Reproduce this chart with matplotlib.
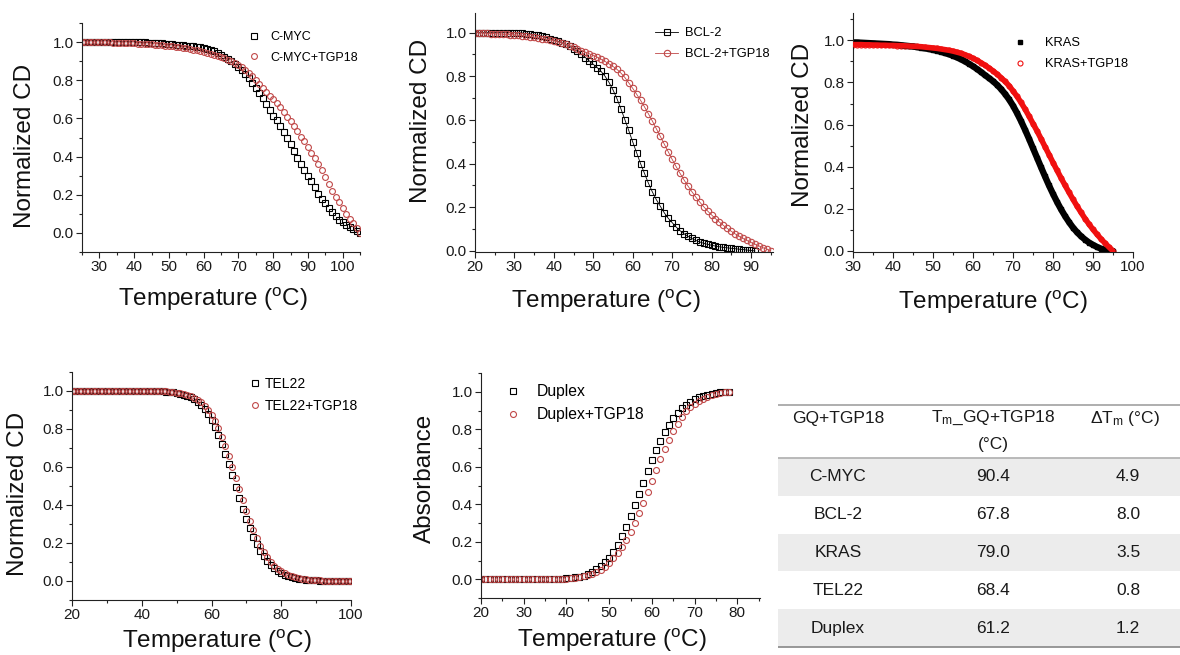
import numpy as np
import matplotlib
matplotlib.use('Agg')
import matplotlib.pyplot as plt
from matplotlib.patches import Rectangle
from matplotlib.ticker import MultipleLocator, FixedLocator, FormatStrFormatter

plt.rcParams['font.family'] = ['Liberation Sans', 'DejaVu Sans']
plt.rcParams['mathtext.fontset'] = 'custom'
plt.rcParams['mathtext.rm'] = 'Liberation Sans'
plt.rcParams['mathtext.it'] = 'Liberation Sans:italic'
plt.rcParams['mathtext.bf'] = 'Liberation Sans:bold'

# ---------------- data ----------------
cmyc_T = np.arange(25, 106)
cmyc = [1.000]*14 + [0.999, 0.999, 0.999, 0.998, 0.998, 0.997, 0.996, 0.995, 0.994, 0.993, 0.992,
        0.990, 0.989, 0.987, 0.985, 0.983, 0.981, 0.979, 0.977, 0.975, 0.972,
        0.970, 0.965, 0.960, 0.952, 0.943, 0.934, 0.924, 0.913, 0.900, 0.886,
        0.870, 0.855, 0.835, 0.810, 0.785, 0.760, 0.735, 0.705, 0.675, 0.645,
        0.615, 0.590, 0.560, 0.530, 0.495, 0.465, 0.430, 0.395, 0.360, 0.330,
        0.300, 0.270, 0.240, 0.205, 0.180, 0.155, 0.130, 0.110, 0.090, 0.070,
        0.055, 0.040, 0.030, 0.020, 0.010, 0.000]
cmyc_tgp = [1.000, 1.000, 1.000, 1.000, 0.999, 0.999, 0.999, 0.998, 0.998, 0.997, 0.997, 0.996, 0.995, 0.995, 0.994,
            0.993, 0.992, 0.991, 0.990, 0.989, 0.988, 0.986, 0.985, 0.983, 0.981,
            0.979, 0.977, 0.975, 0.973, 0.970, 0.967, 0.964, 0.960, 0.956, 0.952,
            0.947, 0.942, 0.937, 0.932, 0.927, 0.921, 0.914, 0.907, 0.899, 0.890,
            0.880, 0.868, 0.854, 0.838, 0.820, 0.800, 0.780, 0.760, 0.740, 0.720,
            0.700, 0.680, 0.660, 0.635, 0.610, 0.585, 0.560, 0.535, 0.505, 0.480,
            0.450, 0.420, 0.390, 0.360, 0.330, 0.295, 0.255, 0.220, 0.190, 0.160,
            0.130, 0.100, 0.075, 0.050, 0.025, 0.000]

bcl_T = np.arange(20, 92)
bcl = [1.000]*11 + [0.999, 0.998, 0.996, 0.994, 0.991, 0.987, 0.983, 0.978, 0.972,
       0.966, 0.960, 0.954, 0.946, 0.937, 0.926, 0.914, 0.901, 0.886, 0.870,
       0.855, 0.840, 0.822, 0.800, 0.772, 0.738, 0.698, 0.652, 0.602, 0.552,
       0.500, 0.450, 0.400, 0.355, 0.310, 0.270, 0.235, 0.205, 0.175, 0.150,
       0.130, 0.110, 0.093, 0.079, 0.067, 0.057, 0.048, 0.041, 0.035, 0.030,
       0.026, 0.022, 0.019, 0.016, 0.014, 0.012, 0.010, 0.008, 0.006, 0.004,
       0.002, 0.000]
bcl_tgp_T = np.arange(20, 96)
bcl_tgp = [1.000, 0.999, 0.998, 0.997, 0.996, 0.995, 0.994, 0.993, 0.992, 0.991,
           0.990, 0.988, 0.986, 0.984, 0.982, 0.979, 0.976, 0.973, 0.970, 0.967,
           0.963, 0.958, 0.953, 0.947, 0.941, 0.934, 0.926, 0.918, 0.910, 0.903,
           0.895, 0.887, 0.878, 0.868, 0.857, 0.845, 0.832, 0.815, 0.795, 0.770,
           0.745, 0.718, 0.690, 0.660, 0.628, 0.595, 0.560, 0.525, 0.490, 0.455,
           0.420, 0.387, 0.356, 0.326, 0.298, 0.272, 0.247, 0.224, 0.203, 0.183,
           0.165, 0.148, 0.132, 0.117, 0.103, 0.090, 0.078, 0.067, 0.057, 0.048,
           0.039, 0.031, 0.023, 0.015, 0.008, 0.000]

kras_T = np.arange(30, 96)
kras = [0.990, 0.990, 0.989, 0.988, 0.987, 0.986, 0.985, 0.984, 0.983, 0.982,
        0.980, 0.979, 0.977, 0.975, 0.973, 0.971, 0.968, 0.965, 0.962, 0.959,
        0.955, 0.951, 0.946, 0.940, 0.934, 0.927, 0.919, 0.910, 0.900, 0.889,
        0.877, 0.864, 0.850, 0.835, 0.821, 0.806, 0.789, 0.769, 0.746, 0.720,
        0.690, 0.655, 0.617, 0.576, 0.533, 0.488, 0.443, 0.398, 0.354, 0.311,
        0.271, 0.233, 0.198, 0.166, 0.137, 0.111, 0.089, 0.070, 0.054, 0.040,
        0.029, 0.019, 0.011, 0.005, 0.001, 0.000]
kras_tgp = [0.980, 0.980, 0.980, 0.979, 0.979, 0.978, 0.978, 0.977, 0.977, 0.976,
            0.976, 0.975, 0.975, 0.974, 0.973, 0.972, 0.971, 0.970, 0.968, 0.966,
            0.964, 0.962, 0.959, 0.956, 0.953, 0.949, 0.944, 0.939, 0.932, 0.924,
            0.915, 0.905, 0.894, 0.882, 0.869, 0.855, 0.840, 0.823, 0.805, 0.785,
            0.760, 0.734, 0.705, 0.674, 0.640, 0.605, 0.570, 0.533, 0.495, 0.458,
            0.420, 0.383, 0.347, 0.312, 0.278, 0.245, 0.213, 0.183, 0.154, 0.127,
            0.102, 0.079, 0.057, 0.037, 0.018, 0.000]

tel_T = np.arange(20, 101)
tel = [1.000]*26 + [0.998, 0.997, 0.995, 0.993,
       0.990, 0.986, 0.981, 0.975, 0.967, 0.957, 0.944, 0.927, 0.906, 0.880,
       0.849, 0.812, 0.770, 0.722, 0.670, 0.614, 0.556, 0.497, 0.438, 0.381,
       0.327, 0.277, 0.232, 0.193, 0.158, 0.129, 0.104, 0.084, 0.067, 0.053,
       0.042, 0.033, 0.026, 0.020, 0.016, 0.012, 0.009, 0.007, 0.005, 0.004,
       0.003, 0.002, 0.002, 0.001, 0.001, 0.001, 0.000, 0.000, 0.000, 0.000, 0.000]
tel_tgp = [1.000]*26 + [0.999, 0.998, 0.996, 0.994,
           0.992, 0.989, 0.985, 0.980, 0.973, 0.965, 0.954, 0.941, 0.923, 0.901,
           0.874, 0.842, 0.804, 0.760, 0.712, 0.659, 0.602, 0.544, 0.485, 0.427,
           0.370, 0.317, 0.268, 0.224, 0.186, 0.152, 0.124, 0.100, 0.081, 0.064,
           0.051, 0.040, 0.032, 0.025, 0.019, 0.015, 0.011, 0.009, 0.007, 0.005,
           0.004, 0.003, 0.002, 0.002, 0.001, 0.001, 0.001, 0.000, 0.000, 0.000, 0.000]

dup_T = np.arange(20, 79)
dup = [0.000]*16 + [0.001, 0.002, 0.003, 0.004,
       0.005, 0.007, 0.010, 0.014, 0.020, 0.028, 0.039, 0.053, 0.070, 0.090,
       0.115, 0.145, 0.185, 0.230, 0.280, 0.335, 0.395, 0.455, 0.515, 0.575,
       0.635, 0.690, 0.740, 0.785, 0.825, 0.860, 0.888, 0.912, 0.932, 0.948,
       0.961, 0.971, 0.979, 0.985, 0.990, 0.994, 0.997, 0.999, 1.000]
dup_tgp = [0.000]*18 + [0.001, 0.002,
           0.003, 0.005, 0.007, 0.010, 0.015, 0.021, 0.029, 0.039, 0.052, 0.068,
           0.088, 0.112, 0.140, 0.173, 0.210, 0.253, 0.300, 0.352, 0.407, 0.465,
           0.525, 0.585, 0.640, 0.695, 0.745, 0.790, 0.830, 0.865, 0.895, 0.918,
           0.937, 0.952, 0.964, 0.974, 0.982, 0.988, 0.993, 0.997, 1.000]

tbl_header = ['GQ+TGP18', 'T$_{\\mathregular{m}}$_GQ+TGP18\n(°C)', 'ΔT$_{\\mathregular{m}}$ (°C)']
tbl_names = ['C-MYC', 'BCL-2', 'KRAS', 'TEL22', 'Duplex']
tbl_tm = ['90.4', '67.8', '79.0', '68.4', '61.2']
tbl_dtm = ['4.9', '8.0', '3.5', '0.8', '1.2']

# ---------------- figure ----------------
W, H = 1180, 655
fig = plt.figure(figsize=(W / 100, H / 100), dpi=100)

RED = '#c04848'
BRIGHT_RED = '#f01010'
TICKFS = 11


def add_ax(l, t, r, b):
    return fig.add_axes([l / W, 1 - b / H, (r - l) / W, (b - t) / H])


def style(ax, xlim, ylim, xmaj, xmin):
    ax.set_xlim(*xlim)
    ax.set_ylim(*ylim)
    for s in ['top', 'right']:
        ax.spines[s].set_visible(False)
    for s in ['left', 'bottom']:
        ax.spines[s].set_linewidth(0.8)
        ax.spines[s].set_color('#222222')
    ax.xaxis.set_major_locator(MultipleLocator(xmaj))
    ax.xaxis.set_minor_locator(MultipleLocator(xmin))
    ax.yaxis.set_major_locator(FixedLocator([0.0, 0.2, 0.4, 0.6, 0.8, 1.0]))
    ax.yaxis.set_minor_locator(MultipleLocator(0.1))
    ax.yaxis.set_major_formatter(FormatStrFormatter('%.1f'))
    ax.tick_params(which='major', direction='out', length=4, width=0.8,
                   labelsize=TICKFS, pad=2, color='#222222', labelcolor='#1a1a1a')
    ax.tick_params(which='minor', direction='out', length=2.5, width=0.8, color='#222222')


def legend_at(ax, x, y, fs, hl, htp, ls, handles=None):
    kw = dict(loc='upper left', bbox_to_anchor=(x / W, 1 - y / H),
              bbox_transform=fig.transFigure, frameon=False, fontsize=fs,
              handlelength=hl, handletextpad=htp, labelspacing=ls,
              borderpad=0, borderaxespad=0)
    if handles is not None:
        kw['handles'] = handles
    return ax.legend(**kw)


def ftext(x, y, s, size, rot=0):
    fig.text(x / W, 1 - y / H, s, ha='center', va='center', rotation=rot,
             fontsize=size, color='#111111')


TLABEL = 'Temperature ($\\mathregular{^{o}}$C)'
LS = 17.5

# Panel 1: C-MYC
ax1 = add_ax(82, 23, 360, 252)
ax1.plot(cmyc_T, cmyc, 's', ms=3.8, mfc='none', mec='black', mew=0.8, label='C-MYC')
ax1.plot(cmyc_T, cmyc_tgp, 'o', ms=4.2, mfc='none', mec=RED, mew=0.8, label='C-MYC+TGP18')
style(ax1, (25, 105), (-0.1, 1.1), 10, 5)
legend_at(ax1, 248, 31.5, 9, 1.0, 0.76, 0.65)
ftext(25, 146, 'Normalized CD', LS, 90)
ftext(213, 299, TLABEL, LS)

# Panel 2: BCL-2
ax2 = add_ax(475, 13, 773, 252)
ax2.plot(bcl_T, bcl, 's-', ms=4.3, lw=0.6, color='black', mfc='none', mec='black', mew=0.8, label='BCL-2')
ax2.plot(bcl_tgp_T, bcl_tgp, 'o-', ms=4.6, lw=0.6, color=RED, mfc='none', mec=RED, mew=0.8, label='BCL-2+TGP18')
style(ax2, (20, 95.6), (-0.005, 1.09), 10, 5)
legend_at(ax2, 655, 27.4, 9.3, 1.8, 0.54, 0.68)
ftext(421, 121, 'Normalized CD', LS, 90)
ftext(606, 301, TLABEL, LS)

# Panel 3: KRAS
ax3 = add_ax(853, 13, 1133, 252)
k1, = ax3.plot(kras_T, kras, 's', ms=3.2, color='black', label='KRAS', zorder=1)
ax3.plot(kras_T, kras, '-', lw=4.6, color='black', solid_capstyle='round', zorder=2)
k2, = ax3.plot(kras_T, kras_tgp, 'o', ms=3.6, mfc='white', mec=BRIGHT_RED, mew=0.8,
               label='KRAS+TGP18', zorder=1)
ax3.plot(kras_T, kras_tgp, '-', lw=4.0, color=BRIGHT_RED, solid_capstyle='round', zorder=3)
style(ax3, (30, 100), (-0.005, 1.13), 10, 5)
legend_at(ax3, 1013.5, 37.4, 9.3, 1.0, 1.44, 0.68, handles=[k1, k2])
ftext(803, 125, 'Normalized CD', LS, 90)
ftext(993, 302, TLABEL, LS)

# Panel 4: TEL22
ax4 = add_ax(72, 372, 351, 600)
ax4.plot(tel_T, tel, 's', ms=3.8, mfc='none', mec='black', mew=0.8, label='TEL22')
ax4.plot(tel_T, tel_tgp, 'o', ms=4.2, mfc='none', mec=RED, mew=0.8, label='TEL22+TGP18')
style(ax4, (20, 100), (-0.1, 1.1), 20, 10)
legend_at(ax4, 249.5, 377, 10, 0.8, 0.3, 0.57)
ftext(18, 494, 'Normalized CD', LS, 90)
ftext(217, 641, TLABEL, LS)

# Panel 5: Duplex
ax5 = add_ax(481, 373, 760, 598)
ax5.plot(dup_T, dup, 's', ms=3.8, mfc='none', mec='black', mew=0.8, label='Duplex')
ax5.plot(dup_T, dup_tgp, 'o', ms=4.3, mfc='none', mec=RED, mew=0.8, label='Duplex+TGP18')
style(ax5, (20, 85.3), (-0.1, 1.1), 10, 5)
legend_at(ax5, 505, 384, 11.3, 1.0, 1.0, 0.53)
ftext(425, 478, 'Absorbance', LS, 90)
ftext(612, 640, TLABEL, LS)

# Table
TFS = 12.5
axt = add_ax(760, 390, 1180, 655)
axt.set_xlim(760, 1180)
axt.set_ylim(655, 390)
axt.axis('off')
row_top = 458
row_h = 37.8
col_x = [838, 993, 1128]
for i in range(len(tbl_names)):
    y0 = row_top + i * row_h
    if i % 2 == 0:
        axt.add_patch(Rectangle((778, y0), 402, row_h, facecolor='#ececec', edgecolor='none', zorder=0))
    yc = y0 + row_h / 2
    for cx, val in zip(col_x, [tbl_names[i], tbl_tm[i], tbl_dtm[i]]):
        axt.text(cx, yc, val, ha='center', va='center', fontsize=TFS, color='#1a1a1a')
axt.plot([778, 1180], [405, 405], color='#a8a8a8', lw=1.3, solid_capstyle='butt')
axt.plot([778, 1180], [row_top, row_top], color='#b4b4b4', lw=1.3, solid_capstyle='butt')
axt.plot([778, 1180], [row_top + 5 * row_h, row_top + 5 * row_h], color='#909090', lw=1.3, solid_capstyle='butt')
axt.text(col_x[0], 418, tbl_header[0], ha='center', va='center', fontsize=TFS, color='#1a1a1a')
h1, h2 = tbl_header[1].split('\n')
axt.text(col_x[1], 418, h1, ha='center', va='center', fontsize=TFS, color='#1a1a1a')
axt.text(col_x[1], 444, h2, ha='center', va='center', fontsize=TFS, color='#1a1a1a')
axt.text(col_x[2] - 3, 418, tbl_header[2], ha='center', va='center', fontsize=TFS, color='#1a1a1a')

fig.savefig('out.png', dpi=100)
